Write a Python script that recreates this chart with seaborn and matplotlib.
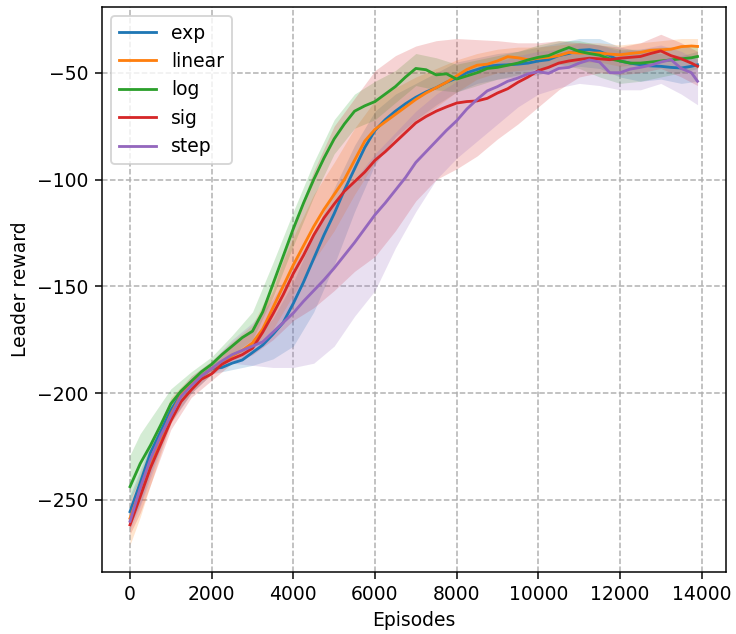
import numpy as np
import pandas as pd
import matplotlib
matplotlib.use("Agg")
import matplotlib.pyplot as plt
import seaborn as sns

# Episodes at which the smoothed leader reward was logged (every 250, plus the final one)
episodes = list(range(0, 14000, 250)) + [13900]
# Coarser grid on which the spread across runs is stored
band_episodes = [0, 250, 500] + list(range(1000, 14000, 500)) + [13900]

schedules = ["exp", "linear", "log", "sig", "step"]

# Smoothed mean leader reward per schedule (8 values = 2000 episodes per row)
exp_mean = [-255.5, -242, -228, -218, -208, -200.5, -196, -192,
            -188.5, -188, -186, -184.5, -181, -177.5, -172.5, -167,
            -158, -148, -137, -126, -116, -105, -95, -85,
            -77, -72, -68, -64.5, -61.5, -59, -57, -54.5,
            -52.5, -50, -48.5, -47, -46.5, -46.3, -46, -45.5,
            -44.5, -43.9, -42, -41, -39.5, -39.2, -40, -42,
            -44.5, -45.5, -46.3, -46.8, -47, -47.5, -47.8, -47,
            -46.3]
linear_mean = [-258.6, -245.5, -232, -221, -210, -201, -196, -192,
               -188.5, -185.5, -182.5, -180, -176.5, -170, -160, -150,
               -140, -131, -122, -114, -107, -100, -91, -82,
               -76.5, -73, -69.5, -66, -62.5, -59.5, -57, -54.5,
               -51.5, -48.5, -46.5, -46, -44.5, -42.5, -43, -43.9,
               -43.2, -42.8, -42, -40.5, -40.8, -40.8, -40.8, -41.3,
               -41.6, -41, -40.5, -39.5, -39.3, -39, -37.8, -37.5,
               -37.7]
log_mean = [-243.8, -233, -224.5, -215, -205, -199, -194.5, -190,
            -186.5, -182, -178, -174, -171, -162, -149, -136,
            -123, -111, -100, -90, -81, -74, -68, -65.5,
            -63.5, -60, -56.5, -52, -48, -48.6, -51, -50.5,
            -53, -51.5, -50, -48, -47.5, -46.5, -45.5, -44,
            -42.8, -42, -40, -38.2, -40, -41, -41.8, -43.5,
            -44.5, -45.5, -45.5, -45, -44.5, -44, -43.5, -43,
            -42.4]
sig_mean = [-261.7, -248.5, -235, -224, -213, -204, -198.5, -193.5,
            -191, -186.5, -184, -182, -179, -171.5, -163, -154,
            -144, -135.5, -126, -118, -111.5, -105.5, -101, -96.5,
            -91, -87, -82.5, -78, -73.5, -70.5, -68, -66,
            -64.2, -63.5, -63.2, -62, -59.5, -57.5, -54.5, -52,
            -49, -47.5, -45.5, -44.5, -43.8, -43.2, -43.5, -43.9,
            -43.2, -42.8, -42.4, -41, -39.8, -42, -43.5, -45.5,
            -47]
step_mean = [-260, -244.5, -231, -220, -210.5, -201.5, -196.5, -192,
             -188.5, -185, -182, -180, -178, -176, -171.5, -167,
             -162.5, -157, -152, -147, -141.5, -135.5, -129.5, -123,
             -116.5, -111, -105, -99, -92, -87, -82, -77,
             -72.5, -67, -62.5, -58.5, -56.5, -54, -52.5, -50.5,
             -49.5, -50.3, -48, -47.5, -45.5, -44, -45, -50,
             -50, -48.3, -47.5, -46.5, -45, -43.9, -48, -50,
             -54]

# Lower / upper edges of the spread across runs
exp_low = [-262, -252, -238, -213, -200, -191, -189, -187, -184, -178, -162, -140, -115, -93, -80,
           -72, -65, -59, -55, -53, -52, -51, -48, -47, -48, -52, -54, -53, -55, -54]
exp_high = [-248, -236, -224, -203, -193, -186, -182, -176, -165, -148, -126, -104, -84, -68, -60,
            -55, -50, -45, -43, -41, -40, -38, -36, -34, -34, -38, -40, -41, -42, -40]
linear_low = [-271, -258, -243, -214, -200, -191, -184, -179, -170, -154, -138, -124, -107, -92, -82,
              -73, -66, -59, -53, -50, -49, -48, -46, -45, -45, -47, -46, -44, -43, -42]
linear_high = [-250, -238, -225, -202, -192, -185, -176, -168, -149, -127, -107, -92, -76, -63, -57,
               -52, -48, -44, -41, -39, -38, -38, -37, -36, -36, -37, -36, -35, -34, -34]
log_low = [-250, -240, -230, -209, -198, -189, -182, -175, -155, -131, -108, -88, -76, -72, -64,
           -56, -58, -59, -56, -53, -51, -48, -46, -48, -52, -55, -54, -52, -50, -48]
log_high = [-229, -219, -212, -198, -190, -183, -173, -162, -139, -115, -92, -72, -60, -54, -49,
            -41, -43, -46, -44, -42, -40, -37, -35, -35, -37, -39, -39, -38, -38, -37]
sig_low = [-266, -256, -243, -217, -202, -194, -186, -182, -175, -166, -160, -152, -143, -136, -124,
           -110, -100, -95, -89, -81, -74, -66, -58, -52, -50, -51, -50, -48, -52, -56]
sig_high = [-255, -245, -231, -207, -194, -187, -178, -170, -152, -122, -96, -75, -62, -49, -42,
            -37.5, -35, -34, -34.5, -35, -36, -36, -35, -36, -37, -38, -36, -32, -36, -40]
step_low = [-264, -253, -240, -214, -200, -191, -186, -187, -188, -188, -186, -178, -164, -152, -132,
            -115, -100, -90, -82, -74, -66, -60, -57, -55, -56, -58, -58, -55, -60, -65]
step_high = [-253, -241, -228, -204, -192, -185, -175, -167, -156, -140, -125, -112, -100, -88, -78,
             -68, -60, -54, -48, -45, -42, -40, -39, -36, -37, -40, -39, -37, -40, -44]

means = {"exp": exp_mean, "linear": linear_mean, "log": log_mean, "sig": sig_mean, "step": step_mean}
lows = {"exp": exp_low, "linear": linear_low, "log": log_low, "sig": sig_low, "step": step_low}
highs = {"exp": exp_high, "linear": linear_high, "log": log_high, "sig": sig_high, "step": step_high}

x_ticks = [0, 2000, 4000, 6000, 8000, 10000, 12000, 14000]
y_ticks = [-250, -200, -150, -100, -50]

df = pd.concat(
    [pd.DataFrame({"Episodes": episodes, "Leader reward": means[s], "schedule": s}) for s in schedules],
    ignore_index=True,
)

palette = dict(zip(schedules, sns.color_palette("tab10", 5)))

dpi = 135
fig = plt.figure(figsize=(736 / dpi, 634 / dpi), dpi=dpi)
ax = fig.add_axes([0.1382, 0.0983, 0.8482, 0.8911])

for s in schedules:
    ax.fill_between(band_episodes, lows[s], highs[s], color=palette[s], alpha=0.2, linewidth=0)

sns.lineplot(data=df, x="Episodes", y="Leader reward", hue="schedule", hue_order=schedules,
             palette=palette, linewidth=1.5, ax=ax)

ax.set_xlim(-693, 14597)
ax.set_ylim(-283.6, -19.1)
ax.set_xticks(x_ticks)
ax.set_yticks(y_ticks)
ax.grid(True, linestyle="--", color="#b0b0b0", linewidth=0.8)
ax.set_axisbelow(True)
ax.set_xlabel("Episodes")
ax.set_ylabel("Leader reward")
sns.move_legend(ax, "upper left", title=None)

fig.savefig("out.png", dpi=dpi)
